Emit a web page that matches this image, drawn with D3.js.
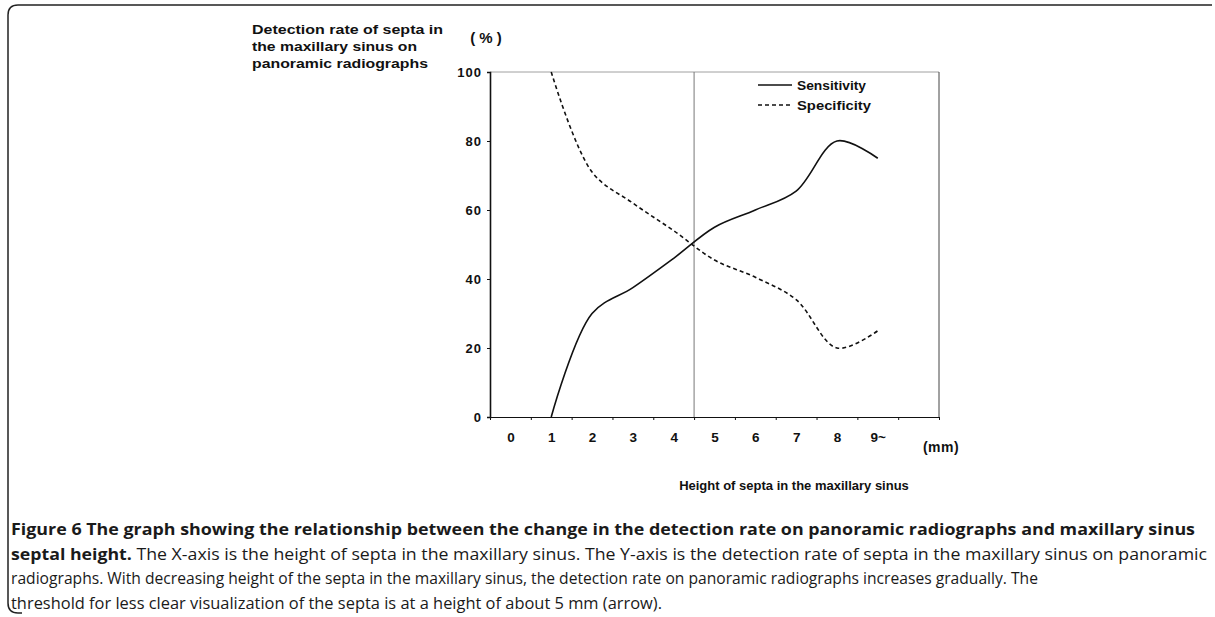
<!DOCTYPE html>
<html lang="en">
<head>
    <meta charset="UTF-8">
    <title>Figure 6</title>
    <style>
        body { margin: 0; background: #fff; }
        .lab { font-family: 'Liberation Sans', Arial, sans-serif; font-weight: bold; fill: #111; }
        .cap { font-family: 'Open Sans', sans-serif; fill: #1a1a1a; }
        .axis path, .axis line { stroke: #111; }
    </style>
    <script src="https://d3js.org/d3.v7.min.js"></script>
</head>
<body>
<script>

// data
var xLabels = ["0", "1", "2", "3", "4", "5", "6", "7", "8", "9~"];
var yTicks = [0, 20, 40, 60, 80, 100];
var heights = [1, 2, 3, 4, 5, 6, 7, 8, 9];
var sensitivity = [0, 30, 37.5, 46, 55, 60, 65.5, 80, 75];
var specificity = [100, 71, 62, 54, 45.5, 40.5, 34, 20, 25];
var threshold = 4.5;

var titleLines = ["Detection rate of septa in", "the maxillary sinus on", "panoramic radiographs"];
var captionLines = [
  [["Figure 6 The graph showing the relationship between the change in the detection rate on panoramic radiographs and maxillary sinus", true]],
  [["septal height.", true], ["The X-axis is the height of septa in the maxillary sinus. The Y-axis is the detection rate of septa in the maxillary sinus on panoramic", false]],
  [["radiographs. With decreasing height of the septa in the maxillary sinus, the detection rate on panoramic radiographs increases gradually. The", false]],
  [["threshold for less clear visualization of the septa is at a height of about 5 mm (arrow).", false]]
];

var W = 1215, H = 617;
var svg = d3.select("body").append("svg").attr("width", W).attr("height", H);

var x = d3.scaleLinear().domain([-0.5, 10.5]).range([490, 939]);
var y = d3.scaleLinear().domain([0, 100]).range([417, 72]);

// stretch a text to a given width (scanned figure has wide lettering)
function fit(sel, w) {
  sel.attr("textLength", w).attr("lengthAdjust", "spacingAndGlyphs");
}

// outer frame of the figure page
svg.append("path")
   .attr("d", "M1212,5 H18 Q8,5 8,15 V603 Q8,613 18,613 H22")
   .attr("fill", "none").attr("stroke", "#222").attr("stroke-width", 1.5);

// plot box (top/right thin)
svg.append("line").attr("x1", x(-0.5)).attr("x2", x(10.5)).attr("y1", y(100)).attr("y2", y(100))
   .attr("stroke", "#888").attr("stroke-width", 0.8);
svg.append("line").attr("x1", x(10.5)).attr("x2", x(10.5)).attr("y1", y(100)).attr("y2", y(0))
   .attr("stroke", "#444").attr("stroke-width", 1);

// threshold line
svg.append("line").attr("x1", x(threshold)).attr("x2", x(threshold)).attr("y1", y(0)).attr("y2", y(100))
   .attr("stroke", "#777").attr("stroke-width", 1);

// y axis
var yAxis = svg.append("g").attr("class", "axis").attr("transform", "translate(" + x(-0.5) + ",0)")
   .call(d3.axisLeft(y).tickValues(yTicks).tickSize(3).tickPadding(5));
yAxis.select(".domain").attr("stroke-width", 1.6);
yAxis.selectAll("text").attr("class", "lab").attr("font-family", null)
   .style("font-size", "13px").style("letter-spacing", "1px");

// x axis: tick marks at band edges, labels at centres
var edges = d3.range(-0.5, 11, 1);
svg.append("g").attr("class", "axis").attr("transform", "translate(0," + y(0) + ")")
   .call(d3.axisBottom(x).tickValues(edges).tickSize(3).tickFormat(""))
   .select(".domain").attr("stroke", "#333").attr("stroke-width", 1);
var xl = svg.append("g").attr("class", "axis").attr("transform", "translate(0," + y(0) + ")")
   .call(d3.axisBottom(x).tickValues(d3.range(xLabels.length)).tickSize(0).tickPadding(15)
        .tickFormat(function(d) { return xLabels[d]; }));
xl.select(".domain").remove();
xl.selectAll("text").attr("class", "lab").attr("font-family", null).style("font-size", "13.5px");

svg.append("text").attr("class", "lab").attr("x", 941).attr("y", 452).attr("text-anchor", "middle")
   .style("font-size", "14px").style("letter-spacing", "0.5px").text("(mm)");

svg.append("text").attr("class", "lab").attr("x", 794).attr("y", 490).attr("text-anchor", "middle")
   .style("font-size", "13px").text("Height of septa in the maxillary sinus");

// y title
var ends = [443, 417, 428];
svg.selectAll(".ttl").data(titleLines).enter().append("text").attr("class", "lab ttl")
   .attr("x", 252).attr("y", function(d, i) { return 34 + i * 17; })
   .style("font-size", "13px").text(function(d) { return d; })
   .each(function(d, i) { fit(d3.select(this), ends[i] - 252); });
svg.append("text").attr("class", "lab").attr("x", 486).attr("y", 43).attr("text-anchor", "middle")
   .style("font-size", "15px").text("( % )");

// curves
var line = d3.line().x(function(d) { return x(d[0]); }).y(function(d) { return y(d[1]); })
   .curve(d3.curveCatmullRom.alpha(0.5));
svg.append("path").datum(d3.zip(heights, sensitivity)).attr("d", line)
   .attr("fill", "none").attr("stroke", "#111").attr("stroke-width", 1.6);
svg.append("path").datum(d3.zip(heights, specificity)).attr("d", line)
   .attr("fill", "none").attr("stroke", "#111").attr("stroke-width", 1.6).attr("stroke-dasharray", "4,3");

// legend
var legend = [["Sensitivity", null, 69], ["Specificity", "4,3", 74]];
legend.forEach(function(l, i) {
  var ly = 85 + i * 20;
  svg.append("line").attr("x1", 758).attr("x2", 792).attr("y1", ly).attr("y2", ly)
     .attr("stroke", "#111").attr("stroke-width", 1.4).attr("stroke-dasharray", l[1]);
  fit(svg.append("text").attr("class", "lab").attr("x", 797).attr("y", ly + 5)
     .style("font-size", "13px").text(l[0]), l[2]);
});

// caption
var capEnds = [1195, 1207, 1038, 662];
var cap = svg.append("g");
captionLines.forEach(function(parts, i) {
  var t = cap.append("text").attr("class", "cap").attr("x", 11).attr("y", 535 + i * 24.5)
     .style("font-size", "15.5px");
  parts.forEach(function(p, j) {
    t.append("tspan").style("font-weight", p[1] ? "bold" : "normal")
     .text((j > 0 ? " " : "") + p[0]);
  });
  fit(t, capEnds[i] - 11);
});

</script>
</body>
</html>
